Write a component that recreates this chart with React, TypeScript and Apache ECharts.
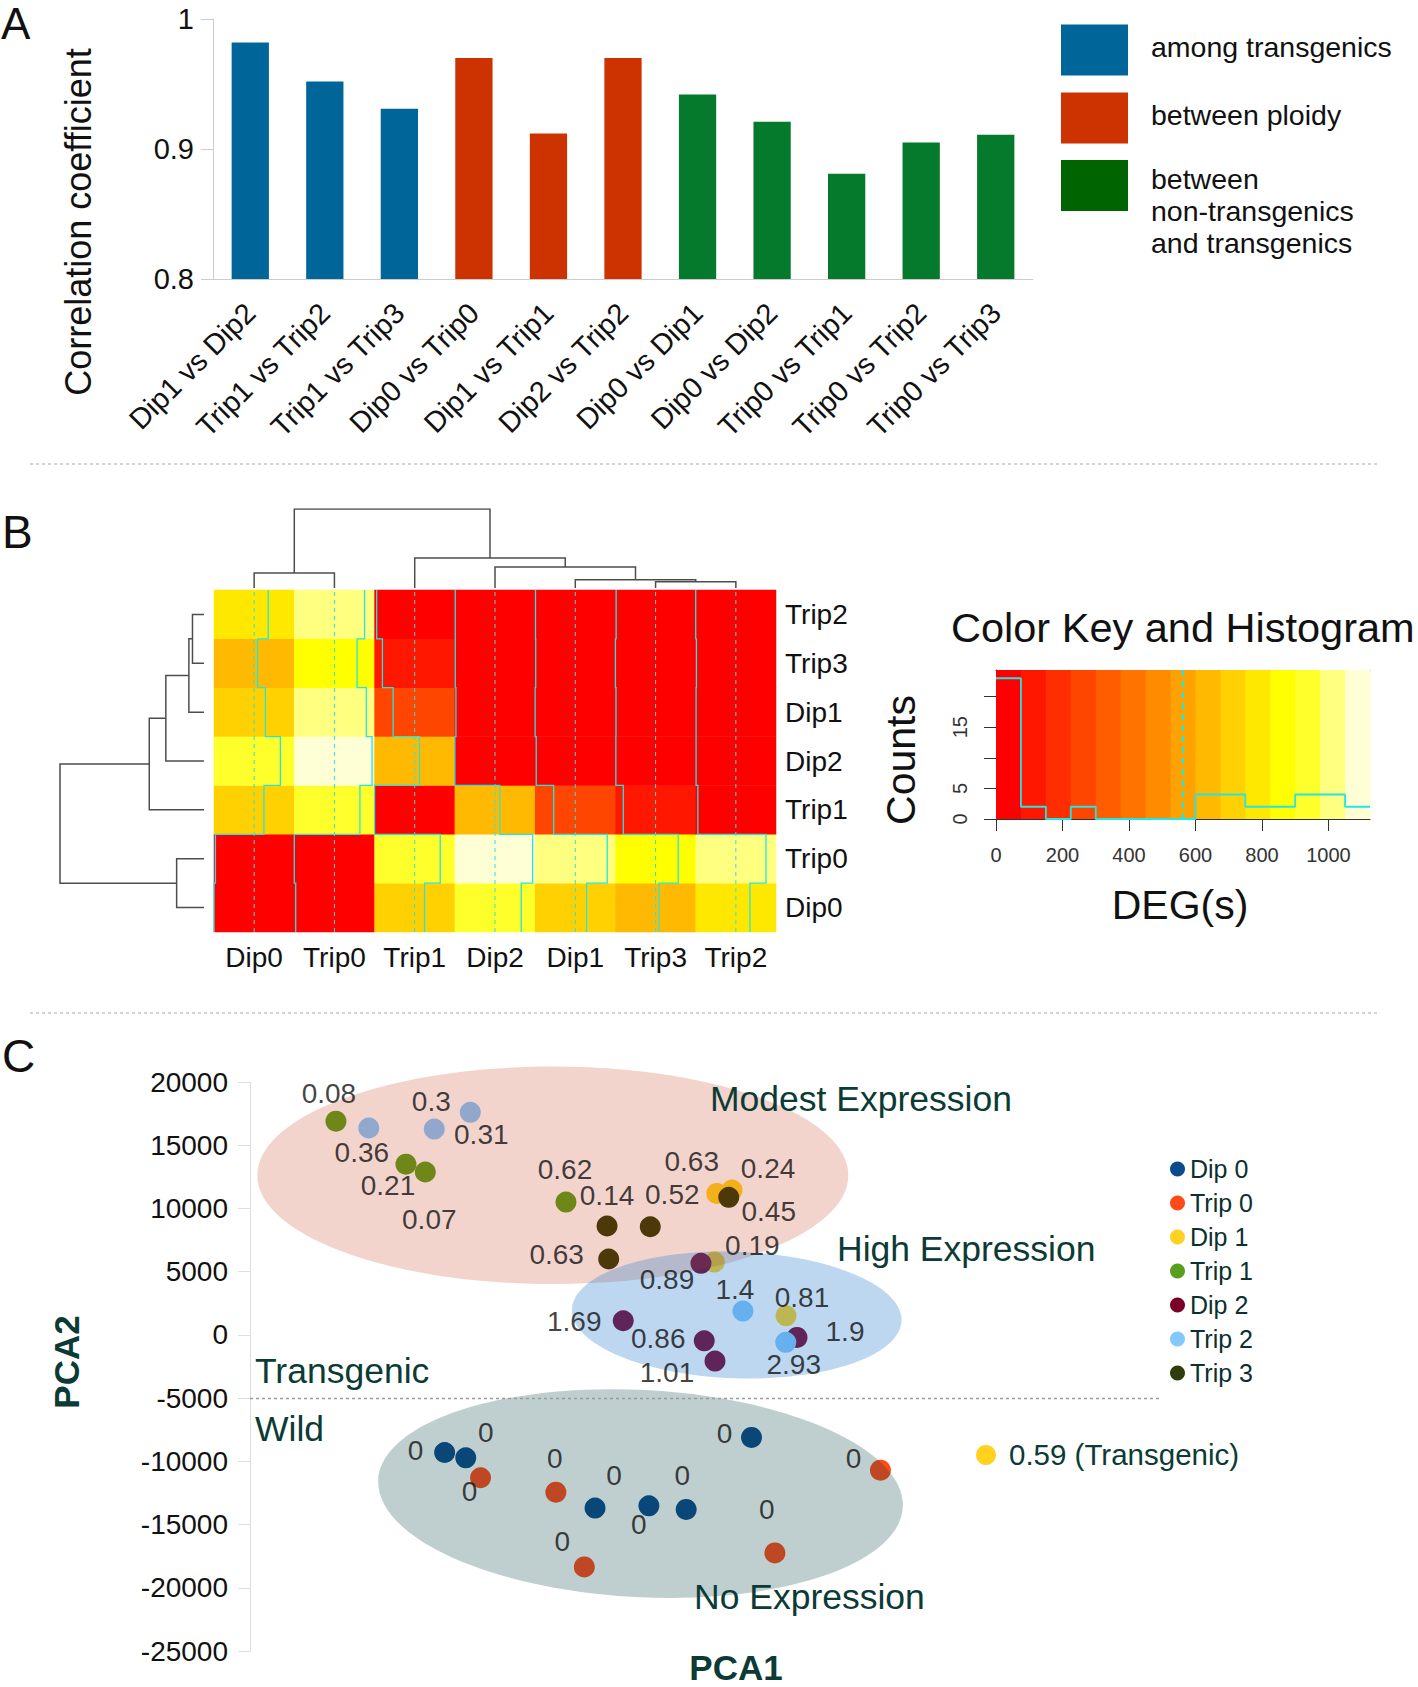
import React, { useEffect, useRef } from "react";
import * as echarts from "echarts";

const FONT = "'Liberation Sans', Arial, sans-serif";

// ---------------- Panel A data ----------------
const pairLabels = [
  "Dip1 vs Dip2", "Trip1 vs Trip2", "Trip1 vs Trip3", "Dip0 vs Trip0", "Dip1 vs Trip1",
  "Dip2 vs Trip2", "Dip0 vs Dip1", "Dip0 vs Dip2", "Trip0 vs Trip1", "Trip0 vs Trip2", "Trip0 vs Trip3",
];
const correlations = [0.982, 0.952, 0.931, 0.970, 0.912, 0.970, 0.942, 0.921, 0.881, 0.905, 0.911];
const pairGroups = [0, 0, 0, 1, 1, 1, 2, 2, 2, 2, 2];
const groupLabels = ["among transgenics", "between ploidy", "between\nnon-transgenics\nand transgenics"];
const corrMin = 0.8;
const corrMax = 1;
const corrStep = 0.1;

// ---------------- Panel B data ----------------
const samples = ["Dip0", "Trip0", "Trip1", "Dip2", "Dip1", "Trip3", "Trip2"];
// DEG counts between samples (symmetric), rows/cols in `samples` order
const degMatrix = [
  [0, 20, 700, 930, 720, 610, 760],
  [20, 0, 920, 1090, 1010, 880, 985],
  [700, 920, 0, 630, 260, 110, 30],
  [930, 1090, 630, 0, 15, 6, 5],
  [720, 1010, 260, 15, 0, 8, 5],
  [610, 880, 110, 6, 8, 0, 10],
  [760, 985, 30, 5, 5, 10, 0],
];
const keyBreaks = [0, 75, 150, 225, 300, 375, 450, 525, 600, 675, 750, 825, 900, 975, 1050, 1125];
const keyCounts = [23, 2, 0, 2, 0, 0, 0, 0, 4, 4, 2, 2, 4, 4, 2];
const keyXTicks = [0, 200, 400, 600, 800, 1000];
const keyYTicks = [0, 5, 10, 15, 20];
const keyYLabels = [0, 5, 15];
const keyYMax = 24.35;
// hclust-style merges: negative = leaf (1-based in samples order), positive = earlier merge
const dendroMerges = [
  [-6, -7, 0.08],
  [-5, 1, 0.105],
  [-4, 2, 0.265],
  [-3, 3, 0.38],
  [-1, -2, 0.19],
  [5, 4, 1.0],
];

// ---------------- Panel C data ----------------
const pcaGroups = ["Dip 0", "Trip 0", "Dip 1", "Trip 1", "Dip 2", "Trip 2", "Trip 3"];
const dip0Points = [[-14600, -9300], [-12930, -9720], [-2700, -13700], [1560, -13520], [4510, -13800], [9680, -8110]];
const dip0Labels = ["0", "0", "0", "0", "0", "0"];
const trip0Points = [[-11760, -11300], [-5800, -12440], [-3550, -18350], [11530, -17240], [19880, -10700]];
const trip0Labels = ["0", "0", "0", "0", "0"];
const dip1Points = [[6930, 11190], [8140, 11460], [6740, 5760], [12410, 1510]];
const dip1Labels = ["0.63", "0.24", "0.19", "0.81"];
const trip1Points = [[-23200, 16900], [-17660, 13500], [-16130, 12880], [-5000, 10500]];
const trip1Labels = ["0.08", "0.21", "0.07", "0.62"];
const dip2Points = [[5680, 5660], [-470, 1120], [5940, -470], [6790, -2070], [13280, -200]];
const dip2Labels = ["0.89", "1.69", "0.86", "1.01", "1.9"];
const trip2Points = [[-20600, 16360], [-15420, 16280], [-12570, 17600], [9000, 1880], [12390, -590]];
const trip2Labels = ["0.36", "0.3", "0.31", "1.4", "2.93"];
const trip3Points = [[-1750, 8610], [1670, 8550], [-1620, 6000], [7880, 10880]];
const trip3Labels = ["0.14", "0.52", "0.63", "0.45"];
const pcaYMin = -25000;
const pcaYMax = 20000;
const pcaYStep = 5000;
const transgenicCutoff = -5000;
const ellipseNames = ["Modest Expression", "High Expression", "No Expression"];
const ellipseCenters = [[-6040, 12620], [8510, 1570], [900, -12550]];
const ellipseRadii = [[23380, 8600], [13050, 5000], [20770, 8190]];
const ellipseTilt = [0, -2, -3];
const extraLabel = "0.59 (Transgenic)";

// ---------------- styles / layout ----------------
const BAR_COLORS = ["#006699", "#cc3300", "#067a2c"];
const LEGEND_A_COLORS = ["#006699", "#cc3300", "#006400"];
const HEAT = [
  "#FF0000", "#FF1700", "#FF2E00", "#FF4600", "#FF5D00", "#FF7400", "#FF8B00", "#FFA200",
  "#FFB900", "#FFD100", "#FFE800", "#FFFF00", "#FFFF2B", "#FFFF80", "#FFFFD5",
];
const TRACE = "#22e6e6";
const DENDRO = "#4d4d4d";
const PCA_COLORS = ["#0b4a8b", "#ff4a1a", "#ffd21f", "#5a9e1f", "#7a0026", "#85c8ff", "#2f3d0c"];
const ELLIPSE_FILLS = ["rgb(195,40,0)", "rgb(35,122,205)", "rgb(0,63,64)"];
const ELLIPSE_OPACITY = [0.2, 0.3, 0.25];
const TEAL = "#0c3b36";
const LABEL_OFFSETS = [
  [[-29, -2], [20, -25], [19, -33], [-10, 19], [-4, -34], [-27, -4]],
  [[-11, 14], [-1, -34], [-22, -25], [-8, -43], [-27, -12]],
  [[-25, -32], [36, -21], [38, -17], [16, -18]],
  [[-7, -28], [-18, 21], [4, 47], [-1, -33]],
  [[-34, 16], [-49, 1], [-46, -2], [-48, 11], [48, -6]],
  [[-7, 24], [-3, -28], [11, 22], [-8, -22], [8, 22]],
  [[0, -31], [22, -32], [-52, -5], [40, 14]],
];

function txt(text: string, x: number, y: number, size: number, o: any = {}) {
  return {
    type: "text",
    x,
    y,
    rotation: o.rotation || 0,
    silent: true,
    z: 50,
    style: {
      text,
      fill: o.color || "#111",
      fontSize: size,
      fontFamily: FONT,
      fontWeight: o.weight || "normal",
      textAlign: o.align || "left",
      align: o.align || "left",
      textVerticalAlign: "middle",
      verticalAlign: "middle",
      lineHeight: o.lineHeight,
    },
  };
}

function dendroSegments(merges: number[][]) {
  const pos: number[] = [];
  const hgt: number[] = [];
  const node = (r: number) => (r < 0 ? [-r - 1 + 0.5, 0] : [pos[r - 1], hgt[r - 1]]);
  const segs: number[][][] = [];
  merges.forEach(([a, b, h], k) => {
    const [pa, ha] = node(a);
    const [pb, hb] = node(b);
    pos[k] = (pa + pb) / 2;
    hgt[k] = h;
    segs.push([[pa, ha], [pa, h], [pb, h], [pb, hb]]);
  });
  return segs;
}

function buildOption() {
  const n = samples.length;
  const keyMax = keyBreaks[keyBreaks.length - 1];
  const keyMid = (keyBreaks[0] + keyMax) / 2;

  const heatData: number[][] = [];
  for (let i = 0; i < n; i++) for (let j = 0; j < n; j++) heatData.push([j, i, degMatrix[i][j]]);

  const traceData = samples.map((_, j) => {
    const pts: number[][] = [];
    for (let i = 0; i < n; i++) {
      const x = j + degMatrix[i][j] / keyMax;
      pts.push([x, i], [x, i + 1]);
    }
    return { coords: pts };
  });
  const midData = samples.map((_, j) => ({ coords: [[j + keyMid / keyMax, 0], [j + keyMid / keyMax, n]] }));

  const segs = dendroSegments(dendroMerges);
  const colDendro = segs.map((s) => ({ coords: s }));
  const rowDendro = segs.map((s) => ({ coords: s.map(([p, h]) => [h, p]) }));

  const histData = keyBreaks.map((b, k) => [b, keyCounts[Math.min(k, keyCounts.length - 1)]]);
  const bandData = keyBreaks.slice(0, -1).map((b, k) => [b, keyBreaks[k + 1]]);

  const pointSets = [dip0Points, trip0Points, dip1Points, trip1Points, dip2Points, trip2Points, trip3Points];
  const labelSets = [dip0Labels, trip0Labels, dip1Labels, trip1Labels, dip2Labels, trip2Labels, trip3Labels];

  const pcaPointSeries = pcaGroups.map((g, gi) => ({
    type: "scatter",
    name: g,
    xAxisIndex: 6,
    yAxisIndex: 6,
    data: pointSets[gi],
    symbol: "circle",
    symbolSize: 21,
    itemStyle: { color: PCA_COLORS[gi], opacity: 1 },
    z: 2,
    silent: true,
  }));
  const pcaLabelSeries = pcaGroups.map((g, gi) => ({
    type: "scatter",
    name: "lbl-" + g,
    xAxisIndex: 6,
    yAxisIndex: 6,
    symbolSize: 2,
    itemStyle: { color: "rgba(0,0,0,0)" },
    z: 4,
    silent: true,
    data: pointSets[gi].map((p, k) => ({
      name: labelSets[gi][k],
      value: p,
      label: { offset: LABEL_OFFSETS[gi][k] },
    })),
    label: { show: true, position: "inside", formatter: "{b}", fontSize: 28, color: "#111", fontFamily: FONT },
    markLine:
      gi === 0
        ? {
            silent: true,
            symbol: ["none", "none"],
            data: [{ yAxis: transgenicCutoff }],
            lineStyle: { color: "#9a9a9a", type: [3, 3], width: 1.3 },
            label: { show: false },
          }
        : undefined,
  }));

  const ellipseData = ellipseNames.map((_, k) => [
    ellipseCenters[k][0], ellipseCenters[k][1], ellipseRadii[k][0], ellipseRadii[k][1], ellipseTilt[k],
  ]);

  const axisText = { fontFamily: FONT, color: "#111" };

  const graphic: any[] = [
    txt("A", 1, 23, 44),
    txt("B", 2, 532, 46),
    txt("C", 2, 1056, 46),
    { type: "line", silent: true, shape: { x1: 30, y1: 464, x2: 1379, y2: 464 }, style: { stroke: "#aaa", lineWidth: 1.2, lineDash: [3, 3] } },
    { type: "line", silent: true, shape: { x1: 30, y1: 1013, x2: 1379, y2: 1013 }, style: { stroke: "#aaa", lineWidth: 1.2, lineDash: [3, 3] } },
    txt("Correlation coefficient", 78, 222, 36, { rotation: Math.PI / 2, align: "center" }),
    txt("Color Key and Histogram", 951, 627, 41.5),
    txt("Counts", 901, 760, 41, { rotation: Math.PI / 2, align: "center" }),
    txt("DEG(s)", 1180, 905, 41, { align: "center" }),
    txt(ellipseNames[0], 710, 1099, 35.5, { color: TEAL }),
    txt(ellipseNames[1], 837, 1249, 35.5, { color: TEAL }),
    txt(ellipseNames[2], 694, 1597, 35.5, { color: TEAL }),
    txt("Transgenic", 255, 1371, 35.5, { color: TEAL }),
    txt("Wild", 255, 1429, 35.5, { color: TEAL }),
    txt("PCA1", 736, 1667, 35, { color: TEAL, weight: "bold", align: "center" }),
    txt("PCA2", 66, 1362, 35, { color: TEAL, weight: "bold", align: "center", rotation: Math.PI / 2 }),
    { type: "circle", silent: true, shape: { cx: 986, cy: 1455, r: 10 }, style: { fill: PCA_COLORS[2] } },
    txt(extraLabel, 1009, 1454, 29.5, { color: TEAL }),
  ];
  const legendY = [50, 118, 185.5];
  const legendTextY = [47, 115, 178.7];
  const legendLineGap = 32;
  groupLabels.forEach((lab, k) => {
    graphic.push({
      type: "rect",
      silent: true,
      shape: { x: 1061, y: legendY[k] - 25.5, width: 67, height: 51 },
      style: { fill: LEGEND_A_COLORS[k] },
    });
    lab.split("\n").forEach((line, li) => {
      graphic.push(txt(line, 1151, legendTextY[k] + li * legendLineGap, 28.5, { lineHeight: legendLineGap }));
    });
  });

  return {
    animation: false,
    backgroundColor: "#fff",
    textStyle: { fontFamily: FONT },
    grid: [
      { left: 213, top: 19, width: 820, height: 260, outerBoundsMode: "none" },
      { left: 214, top: 590, width: 562, height: 342, outerBoundsMode: "none" },
      { left: 214, top: 590, width: 562, height: 342, outerBoundsMode: "none" },
      { left: 214, top: 509, width: 562, height: 79, outerBoundsMode: "none" },
      { left: 60, top: 590, width: 144, height: 342, outerBoundsMode: "none" },
      { left: 996, top: 670, width: 374, height: 149, outerBoundsMode: "none" },
      { left: 250, top: 1082, width: 910, height: 569, outerBoundsMode: "none" },
    ],
    xAxis: [
      {
        type: "category", gridIndex: 0, data: pairLabels,
        axisLine: { lineStyle: { color: "#ccc" } },
        axisTick: { length: 13, lineStyle: { color: "#ccc" } },
        axisLabel: { ...axisText, rotate: 45, interval: 0, fontSize: 29, margin: 29 },
      },
      {
        type: "category", gridIndex: 1, data: samples,
        axisLine: { show: false }, axisTick: { show: false },
        axisLabel: { ...axisText, fontSize: 28, margin: 11, interval: 0 },
      },
      { type: "value", gridIndex: 2, min: 0, max: n, show: false },
      { type: "value", gridIndex: 3, min: 0, max: n, show: false },
      { type: "value", gridIndex: 4, min: 0, max: 1, inverse: true, show: false },
      {
        type: "value", gridIndex: 5, min: 0, max: keyMax,
        axisLine: { show: true, onZero: false, lineStyle: { color: "#333" } },
        axisTick: { show: true, length: 12, customValues: keyXTicks, lineStyle: { color: "#333" } },
        axisLabel: { customValues: keyXTicks, fontSize: 20, color: "#333", fontFamily: FONT, margin: 26, formatter: (v: number) => String(v) },
        splitLine: { show: false },
      },
      { type: "value", gridIndex: 6, min: -30000, max: 42000, show: false },
      {
        type: "value", gridIndex: 5, position: "top", min: 0, max: keyMax,
        axisLine: { show: true, onZero: false, lineStyle: { color: "#333" } },
        axisTick: { show: false }, axisLabel: { show: false }, splitLine: { show: false },
      },
    ],
    yAxis: [
      {
        type: "value", gridIndex: 0, min: corrMin, max: corrMax, interval: corrStep,
        axisLine: { show: true, onZero: false, lineStyle: { color: "#ccc" } },
        axisTick: { show: true, length: 12, lineStyle: { color: "#ccc" } },
        axisLabel: { ...axisText, fontSize: 29, margin: 19 },
        splitLine: { show: false },
      },
      {
        type: "category", gridIndex: 1, data: samples, position: "right",
        axisLine: { show: false }, axisTick: { show: false },
        axisLabel: { ...axisText, fontSize: 28, margin: 9, interval: 0 },
      },
      { type: "value", gridIndex: 2, min: 0, max: n, show: false },
      { type: "value", gridIndex: 3, min: 0, max: 1, show: false },
      { type: "value", gridIndex: 4, min: 0, max: n, show: false },
      {
        type: "value", gridIndex: 5, min: 0, max: keyYMax,
        axisLine: { show: true, onZero: false, lineStyle: { color: "#333" } },
        axisTick: { show: true, length: 12, customValues: keyYTicks, lineStyle: { color: "#333" } },
        axisLabel: { customValues: keyYLabels, rotate: 90, fontSize: 20, color: "#333", fontFamily: FONT, margin: 26 },
        splitLine: { show: false },
      },
      {
        type: "value", gridIndex: 6, min: pcaYMin, max: pcaYMax, interval: pcaYStep,
        axisLine: { show: true, onZero: false, lineStyle: { color: "#ddd" } },
        axisTick: { show: true, length: 12, lineStyle: { color: "#ddd" } },
        axisLabel: { ...axisText, fontSize: 28, margin: 22, formatter: (v: number) => String(v) },
        splitLine: { show: false },
      },
    ],
    visualMap: {
      type: "piecewise",
      show: false,
      seriesIndex: 1,
      dimension: 2,
      pieces: HEAT.map((c, k) =>
        k === HEAT.length - 1
          ? { gte: keyBreaks[k], lte: keyBreaks[k + 1], color: c }
          : { gte: keyBreaks[k], lt: keyBreaks[k + 1], color: c }
      ),
    },
    legend: {
      data: pcaGroups,
      orient: "vertical",
      left: 1170,
      top: 1156,
      padding: 0,
      icon: "circle",
      itemWidth: 15,
      itemHeight: 15,
      itemGap: 8,
      selectedMode: false,
      textStyle: { fontSize: 25, color: "#0c2f2f", fontFamily: FONT, lineHeight: 26 },
    },
    graphic,
    series: [
      {
        type: "bar",
        xAxisIndex: 0,
        yAxisIndex: 0,
        barWidth: "50%",
        silent: true,
        data: correlations.map((v, i) => ({ value: v, itemStyle: { color: BAR_COLORS[pairGroups[i]] } })),
      },
      {
        type: "heatmap",
        xAxisIndex: 1,
        yAxisIndex: 1,
        data: heatData,
        silent: true,
        itemStyle: { borderWidth: 0 },
        emphasis: { disabled: true },
      },
      {
        type: "lines", coordinateSystem: "cartesian2d", xAxisIndex: 2, yAxisIndex: 2,
        polyline: true, silent: true, z: 5, data: traceData,
        lineStyle: { color: TRACE, width: 1.3, opacity: 1 },
      },
      {
        type: "lines", coordinateSystem: "cartesian2d", xAxisIndex: 2, yAxisIndex: 2,
        polyline: true, silent: true, z: 4, data: midData,
        lineStyle: { color: TRACE, width: 1, type: [4, 4], opacity: 1 },
      },
      {
        type: "lines", coordinateSystem: "cartesian2d", xAxisIndex: 3, yAxisIndex: 3,
        polyline: true, silent: true, data: colDendro,
        lineStyle: { color: DENDRO, width: 1.5, opacity: 1 },
      },
      {
        type: "lines", coordinateSystem: "cartesian2d", xAxisIndex: 4, yAxisIndex: 4,
        polyline: true, silent: true, data: rowDendro,
        lineStyle: { color: DENDRO, width: 1.5, opacity: 1 },
      },
      {
        type: "custom", xAxisIndex: 5, yAxisIndex: 5, silent: true, z: 1,
        data: bandData,
        encode: { x: [0, 1] },
        renderItem: (params: any, api: any) => {
          const x0 = api.coord([api.value(0), 0])[0];
          const x1 = api.coord([api.value(1), 0])[0];
          const cs = params.coordSys;
          return {
            type: "rect",
            shape: { x: x0, y: cs.y, width: x1 - x0 + 0.6, height: cs.height },
            style: { fill: HEAT[params.dataIndex] },
          };
        },
      },
      {
        type: "line", xAxisIndex: 5, yAxisIndex: 5, silent: true, z: 3,
        data: histData, step: "end", showSymbol: false,
        lineStyle: { color: TRACE, width: 1.8 },
        markLine: {
          silent: true,
          symbol: ["none", "none"],
          data: [{ xAxis: keyMid }],
          lineStyle: { color: TRACE, type: [6, 5], width: 2.2 },
          label: { show: false },
        },
      },
      ...pcaPointSeries,
      {
        type: "custom", xAxisIndex: 6, yAxisIndex: 6, silent: true, z: 3,
        data: ellipseData,
        renderItem: (params: any, api: any) => {
          const c = api.coord([api.value(0), api.value(1)]);
          const s = api.size([api.value(2), api.value(3)]);
          const k = params.dataIndex;
          return {
            type: "ellipse",
            x: c[0],
            y: c[1],
            rotation: (api.value(4) * Math.PI) / 180,
            shape: { cx: 0, cy: 0, rx: s[0], ry: s[1] },
            style: { fill: ELLIPSE_FILLS[k], opacity: ELLIPSE_OPACITY[k] },
          };
        },
      },
      ...pcaLabelSeries,
    ],
  };
}

export default function App() {
  const ref = useRef<HTMLDivElement>(null);
  useEffect(() => {
    if (!ref.current) return;
    const chart = echarts.init(ref.current, null, { renderer: "svg" });
    chart.setOption(buildOption() as any);
    return () => chart.dispose();
  }, []);
  return (
    <div
      ref={ref}
      style={{ position: "absolute", left: 0, top: 0, width: 1418, height: 1687, background: "#fff" }}
    />
  );
}
